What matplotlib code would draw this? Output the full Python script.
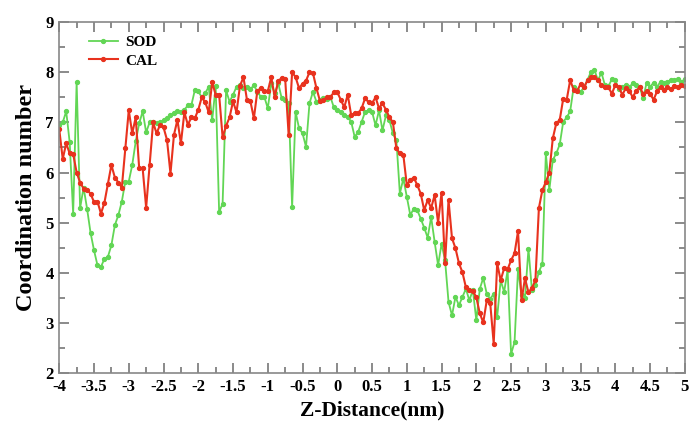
import matplotlib
matplotlib.use("Agg")
import matplotlib.pyplot as plt
import numpy as np
from matplotlib.ticker import MultipleLocator

# coordination number vs z-distance, sampled every 0.05 nm from -4 to 5
sod = [
    6.95, 7.00, 7.22, 6.60, 5.18, 7.80, 5.29, 5.70, 5.28, 4.80,
    4.45, 4.15, 4.12, 4.28, 4.32, 4.55, 4.95, 5.15, 5.42, 5.82,
    5.82, 6.15, 6.62, 6.98, 7.22, 6.80, 7.00, 7.00, 6.98, 7.00,
    7.04, 7.08, 7.14, 7.18, 7.23, 7.21, 7.25, 7.34, 7.34, 7.64,
    7.62, 7.50, 7.58, 7.71, 7.04, 7.72, 5.21, 5.38, 7.64, 7.41,
    7.55, 7.71, 7.74, 7.68, 7.70, 7.66, 7.74, 7.61, 7.51, 7.51,
    7.28, 7.78, 7.58, 7.78, 7.48, 7.44, 7.38, 5.31, 7.21, 6.88,
    6.78, 6.51, 7.38, 7.61, 7.41, 7.44, 7.48, 7.46, 7.51, 7.30,
    7.24, 7.21, 7.14, 7.11, 7.01, 6.71, 6.81, 7.01, 7.21, 7.24,
    7.21, 6.94, 7.24, 6.84, 7.14, 7.04, 6.78, 6.64, 5.58, 5.88,
    5.51, 5.15, 5.28, 5.25, 5.08, 4.90, 4.70, 5.11, 4.62, 4.15,
    4.58, 4.25, 3.42, 3.15, 3.52, 3.35, 3.52, 3.68, 3.45, 3.66,
    3.05, 3.68, 3.90, 3.58, 3.48, 3.58, 3.12, 3.85, 3.62, 4.05,
    2.38, 2.62, 4.08, 3.55, 3.50, 4.48, 3.65, 3.75, 4.02, 4.18,
    6.38, 5.65, 6.25, 6.38, 6.56, 7.01, 7.10, 7.22, 7.70, 7.64,
    7.61, 7.70, 7.85, 8.01, 8.04, 7.84, 7.99, 7.74, 7.72, 7.86,
    7.84, 7.66, 7.71, 7.74, 7.70, 7.78, 7.74, 7.70, 7.48, 7.79,
    7.71, 7.79, 7.71, 7.81, 7.78, 7.81, 7.84, 7.84, 7.86, 7.81,
    7.86,
]
cal = [
    6.86, 6.27, 6.58, 6.38, 6.37, 6.00, 5.80, 5.68, 5.65, 5.58,
    5.41, 5.42, 5.18, 5.40, 5.78, 6.15, 5.90, 5.80, 5.70, 6.48,
    7.24, 6.78, 7.10, 6.08, 6.08, 5.30, 6.15, 7.00, 6.78, 6.95,
    6.90, 6.65, 5.98, 6.75, 7.05, 6.58, 7.20, 6.95, 7.10, 7.08,
    7.25, 7.50, 7.40, 7.20, 7.80, 7.55, 7.55, 6.70, 6.93, 7.10,
    7.42, 7.20, 7.73, 7.90, 7.45, 7.42, 7.08, 7.63, 7.68, 7.63,
    7.62, 7.90, 7.50, 7.83, 7.88, 7.87, 6.75, 8.00, 7.90, 7.68,
    7.77, 7.83, 8.00, 7.98, 7.68, 7.43, 7.45, 7.50, 7.50, 7.60,
    7.60, 7.45, 7.30, 7.55, 7.14, 7.18, 7.18, 7.28, 7.48, 7.40,
    7.38, 7.50, 7.28, 7.38, 7.25, 7.10, 7.00, 6.48, 6.38, 6.35,
    5.75, 5.85, 5.90, 5.75, 5.58, 5.25, 5.45, 5.29, 5.55, 5.00,
    5.60, 4.19, 5.45, 4.69, 4.49, 4.19, 4.01, 3.71, 3.66, 3.64,
    3.51, 3.19, 3.01, 3.45, 3.39, 2.59, 4.19, 3.85, 4.09, 4.07,
    4.25, 4.39, 4.83, 3.45, 3.89, 3.61, 3.70, 3.85, 5.29, 5.65,
    5.81, 6.00, 6.68, 6.98, 7.05, 7.47, 7.45, 7.84, 7.65, 7.62,
    7.77, 7.70, 7.84, 7.90, 7.90, 7.84, 7.75, 7.70, 7.70, 7.57,
    7.75, 7.70, 7.55, 7.68, 7.63, 7.50, 7.63, 7.70, 7.57, 7.62,
    7.57, 7.45, 7.62, 7.70, 7.65, 7.70, 7.66, 7.72, 7.70, 7.75,
    7.72,
]

x_sod = np.linspace(-4, 5, len(sod))
x_cal = np.linspace(-4, 5, len(cal))

serif = ["Liberation Serif", "DejaVu Serif"]

fig = plt.figure(figsize=(6.89, 4.24), dpi=100)
ax = fig.add_axes([0.086, 0.12, 0.908, 0.828])

ax.plot(x_sod, sod, color="#62d655", lw=1.3, marker="o", ms=2.8, label="SOD")
ax.plot(x_cal, cal, color="#e8321e", lw=1.5, marker="o", ms=2.8, label="CAL")

ax.set_xlim(-4, 5)
ax.set_ylim(2, 9)
ax.xaxis.set_major_locator(MultipleLocator(0.5))
ax.xaxis.set_minor_locator(MultipleLocator(0.25))
ax.yaxis.set_major_locator(MultipleLocator(1))
ax.yaxis.set_minor_locator(MultipleLocator(0.5))
ax.set_xticklabels([f"{v:g}" for v in ax.get_xticks()])

ax.tick_params(which="both", direction="in", top=True, right=True,
               color="#777777", width=1.2)
ax.tick_params(which="major", length=7, labelsize=12, pad=4)
ax.tick_params(which="minor", length=4)
for lab in ax.get_xticklabels() + ax.get_yticklabels():
    lab.set_family(serif)
    lab.set_fontweight("bold")

for sp in ax.spines.values():
    sp.set_color("#888888")
    sp.set_linewidth(1.2)

ax.set_xlabel("Z-Distance(nm)", family=serif, fontweight="bold", fontsize=15.5)
ax.set_ylabel("Coordination number", family=serif, fontweight="bold", fontsize=17.5,
              labelpad=6)

ax.legend(loc="upper left", frameon=False, prop={"family": serif, "weight": "bold", "size": 11},
          handlelength=1.9, handletextpad=0.5, borderaxespad=0.5, labelspacing=0.3,
          bbox_to_anchor=(0.025, 1.0))

fig.savefig("out.png", dpi=100)
